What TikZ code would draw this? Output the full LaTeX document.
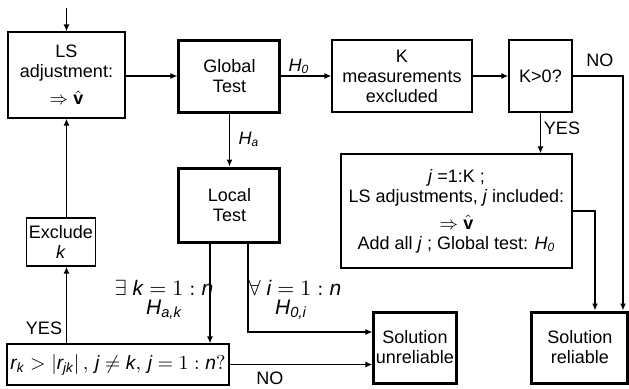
\documentclass[tikz,border=0pt]{standalone}
\usepackage{amsmath}
\usepackage{fontspec}
\setmainfont{Liberation Sans}
\usetikzlibrary{arrows.meta}
\newcommand{\itv}[1]{\textit{#1}}
\begin{document}
\begin{tikzpicture}[x=0.5pt,y=-0.5pt,
    box/.style={draw,line width=0.6pt,align=center,inner sep=1pt,font=\fontsize{9}{10}\selectfont},
    testbox/.style={box,line width=1.5pt},
    link/.style={line width=0.7pt,-{Latex[length=3.5pt,width=3pt]}},
    lbl/.style={font=\fontsize{9}{10}\selectfont},
    biglbl/.style={font=\fontsize{10.5}{11}\selectfont}]
    \useasboundingbox (0,0) rectangle (629,388);
    % boxes
    \node[box,minimum width=58.5pt,minimum height=43pt] (LS) at (66.5,75) {LS\\adjustment:\\[3.5pt]$\Rightarrow\hat{\mathbf{v}}$};
    \node[testbox,minimum width=50.5pt,minimum height=36pt] (Global) at (229.5,76) {Global\\Test};
    \node[box,minimum width=70pt,minimum height=36pt] (Kmeas) at (402,76) {K\\measurements\\excluded};
    \node[box,minimum width=31.5pt,minimum height=36pt] (Kq) at (540.5,76) {K>0?};
    \node[testbox,minimum width=50.5pt,minimum height=37pt] (Local) at (229.5,205) {Local\\Test};
    \node[box,minimum width=115.5pt,minimum height=57pt] (Big) at (456.5,211) {\itv{j} =1:K ;\\LS adjustments, \itv{j} included:\\[3.5pt]$\Rightarrow\hat{\mathbf{v}}$\\Add all \itv{j} ; Global test: \itv{H}$_{\itv{0}}$};
    \node[box,minimum width=34.5pt,minimum height=24pt] (Excl) at (61,242) {Exclude\\\itv{k}};
    \node[box,minimum width=111pt,minimum height=20.5pt,font=\fontsize{9.6}{11}\selectfont] (Cond) at (118,364.5) {$\itv{r}_{\itv{k}} > \left|\itv{r}_{\itv{jk}}\right|,\,\itv{j} \neq \itv{k},\,\itv{j} = 1:\itv{n}?$};
    \node[testbox,minimum width=38pt,minimum height=35.5pt] (Unrel) at (415,347.5) {Solution\\unreliable};
    \node[testbox,minimum width=48pt,minimum height=35.5pt] (Rel) at (580,347.5) {Solution\\reliable};
    % connectors
    \coordinate (in) at (66.5,8);
    \draw[link] (in) -- (LS.north);
    \draw[link] (LS.east |- Global.west) -- (Global.west);
    \draw[link] (Global.east) -- (Kmeas.west);
    \draw[link] (Kmeas.east) -- (Kq.west);
    \draw[link] (Kq.east) -| ([xshift=21.5pt]Rel.north);
    \draw[link] (Kq.south) -- (Big.north -| Kq.south);
    \draw[link] (Big.east) -| ([xshift=7.5pt]Rel.north);
    \draw[link] (Global.south) -- (Local.north);
    \draw[link] ([xshift=-9.75pt]Local.south) coordinate (a) -- (a |- Cond.north);
    \draw[link] ([xshift=9.25pt]Local.south) |- ([yshift=7.75pt]Unrel.west);
    \draw[link] (Cond.east) -- (Cond.east -| Unrel.west);
    \draw[link] (Cond.north -| LS.south) -- (Excl.south -| LS.south);
    \draw[link] (Excl.north -| LS.south) -- (LS.south);
    % labels
    \node[lbl] (lH0) at (299,66) {\itv{H}$_{\itv{0}}$};
    \node[lbl] (lHa) at (249,139) {\itv{H}$_{\itv{a}}$};
    \node[lbl] (lNO1) at (600,60) {NO};
    \node[lbl] (lYES1) at (562,128) {YES};
    \node[biglbl] (lEx) at (164,288) {$\exists\ \itv{k} = 1:\itv{n}$};
    \node[biglbl] (lHak) at (164,310) {\itv{H}$_{\itv{a,k}}$};
    \node[biglbl] (lAll) at (295,288) {$\forall\ \itv{i} = 1:\itv{n}$};
    \node[biglbl] (lH0i) at (291,310) {\itv{H}$_{\itv{0,i}}$};
    \node[lbl] (lYES2) at (44,328) {YES};
    \node[lbl] (lNO2) at (270,378) {NO};
\end{tikzpicture}
\end{document}
